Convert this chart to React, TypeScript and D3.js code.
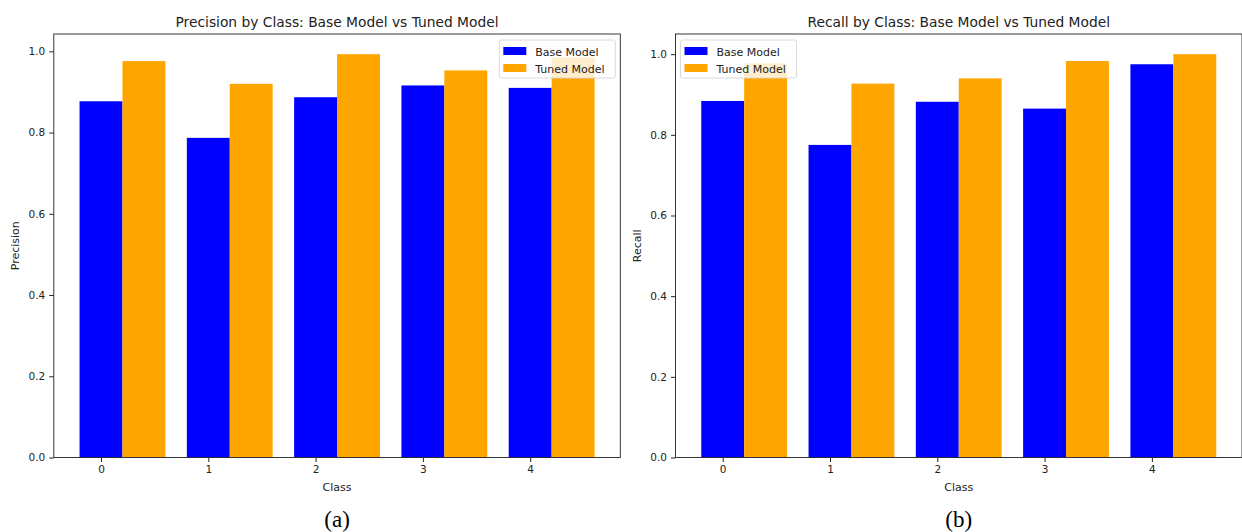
import React, { useEffect, useRef } from 'react';
import * as d3 from 'd3';

const classes = [0, 1, 2, 3, 4];
const seriesNames = ['Base Model', 'Tuned Model'];
const colors = ['#0000ff', '#ffa500'];

const precisionBase = [0.877, 0.787, 0.887, 0.916, 0.91];
const precisionTuned = [0.976, 0.92, 0.993, 0.953, 0.985];
const recallBase = [0.884, 0.775, 0.882, 0.865, 0.975];
const recallTuned = [0.977, 0.927, 0.94, 0.983, 1.0];

const yTicks = [0, 0.2, 0.4, 0.6, 0.8, 1.0];

const FONT = 'DejaVu Sans, sans-serif';

type PanelProps = {
  left: number;
  right: number;
  title: string;
  yLabel: string;
  caption: string;
  base: number[];
  tuned: number[];
  legendSide: 'left' | 'right';
};

const Panel = ({ left, right, title, yLabel, caption, base, tuned, legendSide }: PanelProps) => {
  const gRef = useRef<SVGGElement>(null);

  useEffect(() => {
    const g = d3.select(gRef.current);
    g.selectAll('*').remove();

    const top = 34;
    const bottom = 457.5;
    const width = 0.4;
    const maxVal = d3.max([...base, ...tuned]) as number;

    // bars span -0.2..4.6, matplotlib adds 5% margins
    const x = d3.scaleLinear().domain([-0.44, 4.84]).range([left, right]);
    const y = d3.scaleLinear().domain([0, maxVal * 1.05]).range([bottom, top]);

    const series = [base, tuned];
    series.forEach((vals, si) => {
      g.append('g')
        .selectAll('rect')
        .data(vals)
        .join('rect')
        .attr('x', (_, i) => x(classes[i] + si * width - width / 2))
        .attr('width', x(width) - x(0))
        .attr('y', (d) => y(d))
        .attr('height', (d) => y(0) - y(d))
        .attr('fill', colors[si]);
    });

    // axes
    const xAxis = d3.axisBottom(x).tickValues(classes).tickFormat(d3.format('d')).tickSize(4.5).tickPadding(4).tickSizeOuter(0);
    const yAxis = d3.axisLeft(y).tickValues(yTicks).tickFormat(d3.format('.1f')).tickSize(4.5).tickPadding(4).tickSizeOuter(0);

    g.append('g')
      .attr('transform', `translate(0,${bottom})`)
      .call(xAxis)
      .call((s) => s.select('.domain').remove())
      .call((s) => s.selectAll('text').attr('font-family', FONT).attr('font-size', 10.5).attr('fill', '#222'))
      .call((s) => s.selectAll('line').attr('stroke', '#222'));

    g.append('g')
      .attr('transform', `translate(${left},0)`)
      .call(yAxis)
      .call((s) => s.select('.domain').remove())
      .call((s) => s.selectAll('text').attr('font-family', FONT).attr('font-size', 10.5).attr('fill', '#222'))
      .call((s) => s.selectAll('line').attr('stroke', '#222'));

    // spines
    g.append('rect')
      .attr('x', left)
      .attr('y', top)
      .attr('width', right - left)
      .attr('height', bottom - top)
      .attr('fill', 'none')
      .attr('stroke', '#222')
      .attr('stroke-width', 0.9);

    // legend
    const lw = 116;
    const lh = 38;
    const lx = legendSide === 'right' ? right - 5 - lw : left + 5;
    const ly = top + 6;
    const leg = g.append('g').attr('transform', `translate(${lx},${ly})`);
    leg.append('rect')
      .attr('width', lw)
      .attr('height', lh)
      .attr('rx', 2)
      .attr('fill', 'white')
      .attr('fill-opacity', 0.8)
      .attr('stroke', '#d6d6d6')
      .attr('stroke-width', 0.9);
    seriesNames.forEach((name, i) => {
      const row = leg.append('g').attr('transform', `translate(4,${7 + i * 17})`);
      row.append('rect').attr('width', 23).attr('height', 8).attr('fill', colors[i]);
      row.append('text')
        .attr('x', 32)
        .attr('y', 8.5)
        .attr('font-family', FONT)
        .attr('font-size', 11)
        .attr('fill', '#222')
        .text(name);
    });

    const cx = (left + right) / 2;
    g.append('text')
      .attr('x', cx)
      .attr('y', 27)
      .attr('text-anchor', 'middle')
      .attr('font-family', FONT)
      .attr('font-size', 13.8)
      .attr('fill', '#222')
      .text(title);

    g.append('text')
      .attr('x', cx)
      .attr('y', 491)
      .attr('text-anchor', 'middle')
      .attr('font-family', FONT)
      .attr('font-size', 11)
      .attr('fill', '#222')
      .text('Class');

    g.append('text')
      .attr('transform', `translate(${left - 35},${(top + bottom) / 2}) rotate(-90)`)
      .attr('text-anchor', 'middle')
      .attr('font-family', FONT)
      .attr('font-size', 11)
      .attr('fill', '#222')
      .text(yLabel);

    g.append('text')
      .attr('x', cx)
      .attr('y', 527)
      .attr('text-anchor', 'middle')
      .attr('font-family', 'Liberation Serif, serif')
      .attr('font-size', 23)
      .attr('fill', '#000')
      .text(caption);
  }, [left, right, title, yLabel, caption, base, tuned, legendSide]);

  return <g ref={gRef} />;
};

export default function App() {
  return (
    <svg
      width={1242}
      height={532}
      style={{ position: 'absolute', left: 0, top: 0, background: 'white' }}
    >
      <rect width={1242} height={532} fill="white" />
      <Panel
        left={53.8}
        right={620.3}
        title="Precision by Class: Base Model vs Tuned Model"
        yLabel="Precision"
        caption="(a)"
        base={precisionBase}
        tuned={precisionTuned}
        legendSide="right"
      />
      <Panel
        left={675.5}
        right={1242}
        title="Recall by Class: Base Model vs Tuned Model"
        yLabel="Recall"
        caption="(b)"
        base={recallBase}
        tuned={recallTuned}
        legendSide="left"
      />
    </svg>
  );
}
